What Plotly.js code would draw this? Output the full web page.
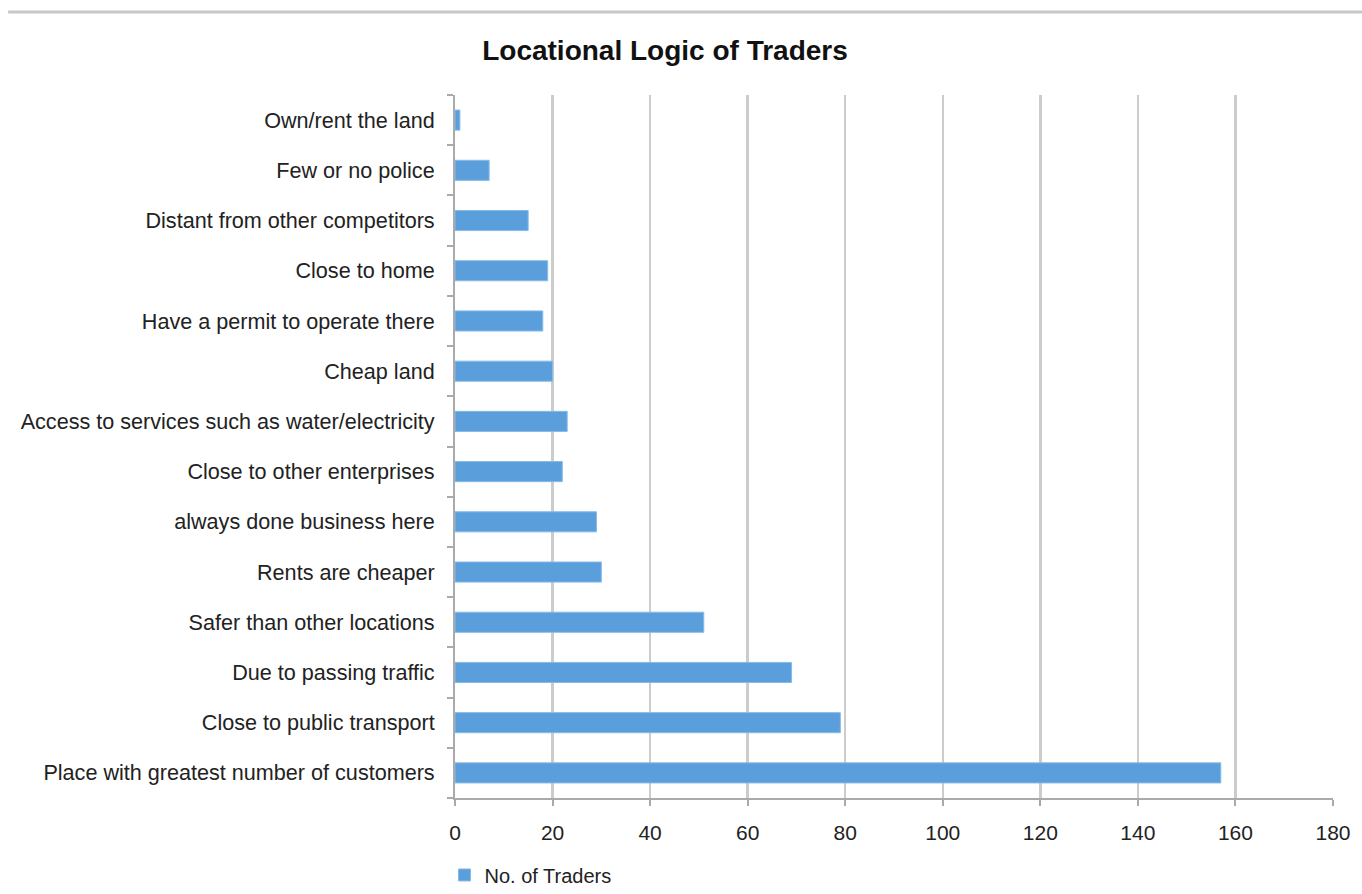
<!DOCTYPE html>
<html>
<head>
<meta charset="utf-8">
<script src="https://cdn.plot.ly/plotly-3.0.1.min.js"></script>
<style>
html,body{margin:0;padding:0;background:#fff;}
#chart{width:1362px;height:894px;}
</style>
</head>
<body>
<div id="chart"></div>
<script>
const categories = [
  "Place with greatest number of customers",
  "Close to public transport",
  "Due to passing traffic",
  "Safer than other locations",
  "Rents are cheaper",
  "always done business here",
  "Close to other enterprises",
  "Access to services such as water/electricity",
  "Cheap land",
  "Have a permit to operate there",
  "Close to home",
  "Distant from other competitors",
  "Few or no police",
  "Own/rent the land"
];
const traders = [157, 79, 69, 51, 30, 29, 22, 23, 20, 18, 19, 15, 7, 1];
const xTicks = [0, 20, 40, 60, 80, 100, 120, 140, 160, 180];
const seriesName = "No. of Traders";
const chartTitle = "Locational Logic of Traders";

const trace = {
  type: "bar",
  orientation: "h",
  y: categories,
  x: traders,
  name: seriesName,
  width: 0.4,
  marker: {color: "#5a9edb", line: {color: "#86bbe8", width: 1}},
  showlegend: true
};

const layout = {
  width: 1362, height: 894,
  paper_bgcolor: "#fff", plot_bgcolor: "#fff",
  margin: {l: 455, r: 29, t: 95, b: 96, autoexpand: false},
  font: {family: "Liberation Sans, Arial, sans-serif", size: 21, color: "#222"},
  title: {
    text: "<b>" + chartTitle + "</b>",
    font: {family: "Liberation Sans, Arial, sans-serif", size: 28, color: "#111"},
    x: 665 / 1362, xref: "container", xanchor: "center",
    y: 1 - 50 / 894, yref: "container", yanchor: "middle"
  },
  xaxis: {
    range: [0, 180],
    tickvals: xTicks,
    ticktext: xTicks.map(String),
    showgrid: true, gridcolor: "#cccccc", gridwidth: 2.5,
    zeroline: false,
    showline: true, linecolor: "#aaaaaa", linewidth: 2,
    ticks: "outside", ticklen: 6, tickcolor: "#aaaaaa", tickwidth: 2,
    tickfont: {size: 21, color: "#222"},
    ticklabelstandoff: 9,
    automargin: false,
    fixedrange: true
  },
  yaxis: {
    type: "category",
    categoryorder: "array", categoryarray: categories,
    showline: true, linecolor: "#aaaaaa", linewidth: 2,
    ticks: "outside", tickson: "boundaries", ticklen: 6, tickcolor: "#aaaaaa", tickwidth: 2,
    showgrid: false,
    tickfont: {size: 21.6, color: "#222"},
    ticklabelstandoff: 14,
    automargin: false
  },
  legend: {
    x: -0.012, xanchor: "left", y: -0.1095, yanchor: "middle",
    orientation: "h",
    font: {size: 20, color: "#222"},
    itemwidth: 30,
    bgcolor: "rgba(0,0,0,0)"
  },
  bargap: 0.6,
  shapes: [{
    type: "line", xref: "paper", yref: "paper",
    x0: -0.509, x1: 1.04, y0: 1.118, y1: 1.118,
    line: {color: "#c8c8c8", width: 3}
  }]
};

Plotly.newPlot("chart", [trace], layout, {displayModeBar: false, staticPlot: true});
</script>
</body>
</html>
